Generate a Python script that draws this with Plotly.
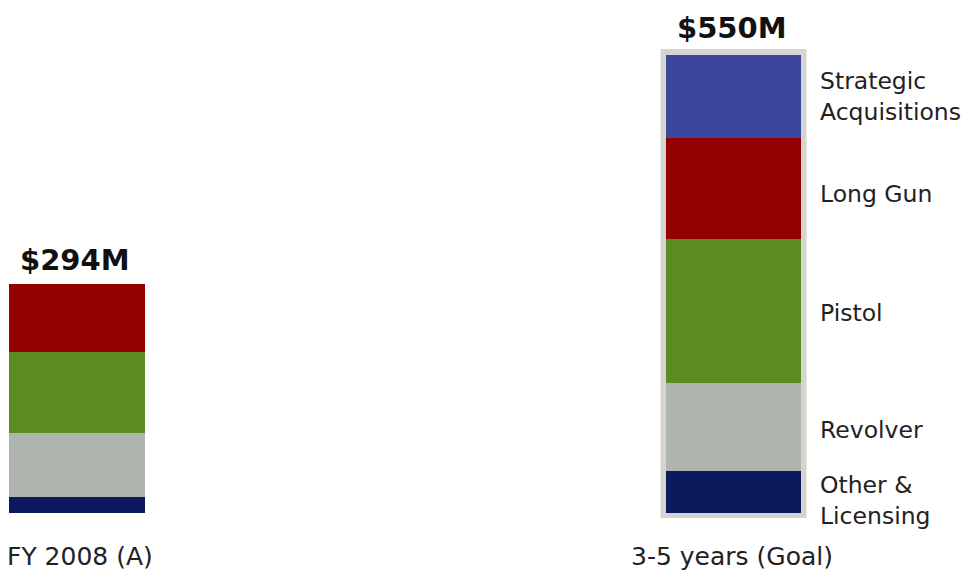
import plotly.graph_objects as go

# Data (display heights in $M)
categories = ["FY 2008 (A)", "3-5 years (Goal)"]
totals = ["$294M", "$550M"]
segments = ["Other &<br>Licensing", "Revolver", "Pistol", "Long Gun", "Strategic<br>Acquisitions"]
values_fy2008 = [19, 77, 97, 82, 0]
values_goal = [50, 106, 173, 121, 100]
colors = ["#0c195d", "#aeb5ae", "#5b8c1f", "#930000", "#3b479d"]

# layout helpers (pixel-based x axis)
x_centers = [77, 733.5]
bar_widths = [136, 135]
W, H = 965, 571
px_per_unit = 458 / sum(values_goal)
y_base_px = 513
y_min = -(H - y_base_px) / px_per_unit
y_max = y_base_px / px_per_unit

fig = go.Figure()

# border box around goal bar
pad = 5.5
fig.add_shape(type="rect", xref="x", yref="y",
              x0=x_centers[1] - bar_widths[1] / 2 - pad, x1=x_centers[1] + bar_widths[1] / 2 + pad,
              y0=-5 / px_per_unit, y1=sum(values_goal) + 6 / px_per_unit,
              fillcolor="#d6d4ce", line=dict(width=0), layer="below")

series = list(zip(values_fy2008, values_goal))
for i, name in enumerate(segments):
    fig.add_trace(go.Bar(
        x=x_centers, y=list(series[i]), width=bar_widths,
        marker=dict(color=colors[i], line=dict(width=0)),
        name=name, showlegend=False, hoverinfo="skip"))

font_fam = "DejaVu Sans"
# totals
stack_tot = [sum(values_fy2008), sum(values_goal)]
tot_shift = [5, 8]
for xc, t, st, ys in zip(x_centers, totals, stack_tot, tot_shift):
    fig.add_annotation(x=xc - 2, y=st, text="<b>" + t + "</b>", showarrow=False,
                       yanchor="bottom", yshift=ys,
                       font=dict(family=font_fam, size=29, color="#111111"))

# category labels
cat_x = [5, 629]
for cx, c in zip(cat_x, categories):
    fig.add_annotation(x=cx, y=0, text=c, showarrow=False, xanchor="left",
                       yanchor="middle", yshift=-43,
                       font=dict(family=font_fam, size=25, color="#222222"))

# segment labels next to goal bar
cum = 0
yshifts = [-8, -3, -2, -5, 0]
for name, v, ys in zip(segments, values_goal, yshifts):
    mid = cum + v / 2
    cum += v
    fig.add_annotation(x=818, y=mid, text=name, showarrow=False, xanchor="left",
                       yanchor="middle", yshift=ys, align="left",
                       font=dict(family=font_fam, size=23.5, color="#222222"))

fig.update_layout(
    width=W, height=H, barmode="stack",
    margin=dict(l=0, r=0, t=0, b=0),
    paper_bgcolor="white", plot_bgcolor="white",
    xaxis=dict(range=[0, W], visible=False, fixedrange=True),
    yaxis=dict(range=[y_min, y_max], visible=False, fixedrange=True),
    bargap=0,
)
fig.write_html("out.html")
